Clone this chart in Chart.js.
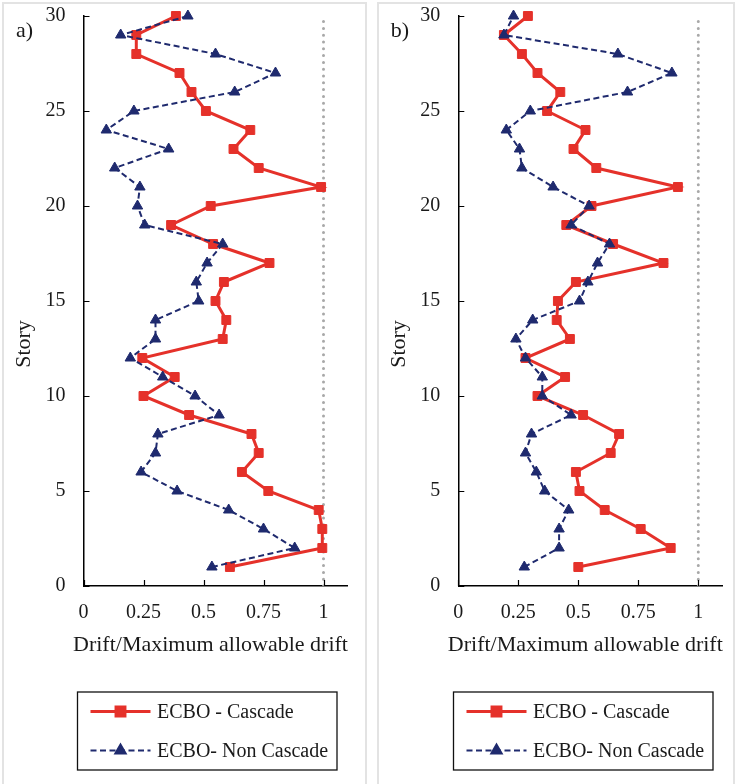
<!DOCTYPE html>
<html>
<head>
<meta charset="utf-8">
<script src="https://cdn.jsdelivr.net/npm/chart.js@4.4.0/dist/chart.umd.min.js"></script>
<style>
  body { margin: 0; background: #fff; width: 736px; height: 784px; overflow: hidden; position: relative; }
  .frame { position: absolute; top: 2px; height: 800px; border: 2px solid #e3e3e3; box-sizing: border-box; }
  canvas { position: absolute; top: 0; }
</style>
</head>
<body>
<div class="frame" style="left:2px;width:365px"></div>
<div class="frame" style="left:377px;width:358px"></div>
<canvas id="chartA" width="368" height="784" style="left:0"></canvas>
<canvas id="chartB" width="368" height="784" style="left:368px"></canvas>
<script>
// story numbers, bottom to top
const stories = [1, 2, 3, 4, 5, 6, 7, 8, 9, 10, 11, 12, 13, 14, 15, 16, 17, 18, 19, 20, 21, 22, 23, 24, 25, 26, 27, 28, 29, 30];

// panel a)
const cascadeA = [0.61, 0.995, 0.995, 0.98, 0.77, 0.66, 0.73, 0.70, 0.44, 0.25, 0.38, 0.245, 0.58, 0.595, 0.55,
  0.585, 0.775, 0.54, 0.365, 0.53, 0.99, 0.73, 0.625, 0.695, 0.51, 0.45, 0.40, 0.22, 0.22, 0.385];
const nonCascadeA = [0.535, 0.88, 0.75, 0.605, 0.39, 0.24, 0.30, 0.31, 0.565, 0.465, 0.33, 0.195, 0.30, 0.30, 0.48,
  0.47, 0.515, 0.58, 0.255, 0.225, 0.235, 0.13, 0.355, 0.095, 0.21, 0.63, 0.80, 0.55, 0.155, 0.435];

// panel b)
const cascadeB = [0.50, 0.885, 0.76, 0.61, 0.505, 0.49, 0.635, 0.67, 0.52, 0.33, 0.445, 0.28, 0.465, 0.41, 0.415,
  0.49, 0.855, 0.645, 0.45, 0.555, 0.915, 0.575, 0.48, 0.53, 0.37, 0.425, 0.33, 0.265, 0.19, 0.29];
const nonCascadeB = [0.275, 0.42, 0.42, 0.46, 0.36, 0.325, 0.28, 0.305, 0.47, 0.35, 0.35, 0.28, 0.24, 0.31, 0.505,
  0.54, 0.58, 0.63, 0.47, 0.545, 0.395, 0.265, 0.255, 0.20, 0.30, 0.705, 0.89, 0.665, 0.19, 0.23];

const allowableLimit = 1;
const xTicks = [0, 0.25, 0.5, 0.75, 1];
const yTicks = [0, 5, 10, 15, 20, 25, 30];
const seriesNames = ['ECBO - Cascade', 'ECBO- Non Cascade'];

const red = '#e5312a';
const navy = '#1f2a6e';
const serif = '"Liberation Serif", "Times New Roman", serif';
const plotTop = 16, plotBottom = 586;

const panelDecor = {
  id: 'panelDecor',
  afterDraw(chart, args, opts) {
    const ctx = chart.ctx;
    const xs = chart.scales.x, ys = chart.scales.y;
    ctx.save();
    // inner tick marks
    ctx.strokeStyle = '#000';
    ctx.lineWidth = 1.2;
    ctx.beginPath();
    xTicks.forEach(v => {
      const px = Math.round(xs.getPixelForValue(v)) + 0.5;
      ctx.moveTo(px, ys.bottom);
      ctx.lineTo(px, ys.bottom - 6);
    });
    yTicks.forEach(v => {
      const py = Math.round(ys.getPixelForValue(v)) + 0.5;
      ctx.moveTo(xs.left, py);
      ctx.lineTo(xs.left + 6, py);
    });
    ctx.stroke();

    ctx.fillStyle = '#1a1a1a';
    ctx.textBaseline = 'middle';
    ctx.font = '22px ' + serif;
    ctx.textAlign = 'left';
    ctx.fillText(opts.tag, xs.left - 67.5, 31);
    ctx.textAlign = 'center';
    ctx.fillText('Drift/Maximum allowable drift', xs.left + 127, 645);
    ctx.save();
    ctx.translate(xs.left - 59.5, 344);
    ctx.rotate(-Math.PI / 2);
    ctx.fillText('Story', 0, 0);
    ctx.restore();

    // legend box
    const bx = opts.legendX, by = 692;
    ctx.strokeStyle = '#111';
    ctx.lineWidth = 1.3;
    ctx.strokeRect(bx, by, 259.5, 78);
    const rows = [711.5, 750.5];
    chart.data.datasets.slice(0, 2).forEach((ds, i) => {
      const y = rows[i];
      ctx.save();
      ctx.strokeStyle = ds.borderColor;
      ctx.lineWidth = ds.borderWidth;
      ctx.setLineDash(ds.borderDash || []);
      ctx.beginPath();
      ctx.moveTo(bx + 13, y);
      ctx.lineTo(bx + 73, y);
      ctx.stroke();
      ctx.setLineDash([]);
      ctx.fillStyle = ds.backgroundColor;
      Chart.helpers.drawPoint(ctx, {pointStyle: ds.pointStyle, radius: ds.pointRadius, rotation: 0, borderWidth: 1}, bx + 43, y);
      ctx.restore();
      ctx.fillStyle = '#1a1a1a';
      ctx.font = '20px ' + serif;
      ctx.textAlign = 'left';
      ctx.fillText(ds.label, bx + 79.5, y + 1);
    });
    ctx.restore();
  }
};

function makePanel(id, tag, cascade, nonCascade, axisLeft, legendX) {
  const plotRight = axisLeft + 264;
  const toPoints = vals => vals.map((v, i) => ({x: v, y: stories[i]}));
  return new Chart(document.getElementById(id), {
    type: 'scatter',
    data: {
      datasets: [
        {
          label: seriesNames[0], data: toPoints(cascade), showLine: true,
          borderColor: red, backgroundColor: red, borderWidth: 3,
          pointStyle: 'rect', pointRadius: 6.3, pointBorderWidth: 1, pointBorderColor: red,
          clip: false, order: 2
        },
        {
          label: seriesNames[1], data: toPoints(nonCascade), showLine: true,
          borderColor: navy, backgroundColor: navy, borderWidth: 2, borderDash: [6, 3.5],
          pointStyle: 'triangle', pointRadius: 6, pointBorderWidth: 1, pointBorderColor: navy,
          clip: false, order: 1
        },
        {
          label: 'limit',
          data: [{x: allowableLimit, y: yTicks[0]}, {x: allowableLimit, y: yTicks[yTicks.length - 1]}],
          showLine: true, borderColor: '#a8a8a8', borderWidth: 3, borderDash: [0, 6.8],
          borderCapStyle: 'round', pointRadius: 0, order: 3
        }
      ]
    },
    options: {
      responsive: false,
      devicePixelRatio: 1,
      animation: false,
      events: [],
      layout: { padding: { left: 0, top: plotTop, right: 368 - plotRight, bottom: 0 } },
      plugins: {
        legend: { display: false },
        tooltip: { enabled: false },
        panelDecor: { tag: tag, legendX: legendX }
      },
      scales: {
        x: {
          type: 'linear', min: 0, max: 1.1,
          grid: { display: false, drawTicks: false },
          border: { display: true, color: '#000', width: 1.5 },
          afterBuildTicks: s => { s.ticks = xTicks.map(v => ({value: v})); },
          afterFit: s => { s.height = 784 - plotBottom; s.paddingLeft = 0; s.paddingRight = 0; },
          ticks: { padding: 15, color: '#1a1a1a', font: { family: serif, size: 20 }, callback: v => String(v) }
        },
        y: {
          type: 'linear', min: 0, max: 30,
          grid: { display: false, drawTicks: false },
          border: { display: true, color: '#000', width: 1.5 },
          afterBuildTicks: s => { s.ticks = yTicks.map(v => ({value: v})); },
          afterFit: s => { s.width = axisLeft; s.paddingTop = 0; s.paddingBottom = 0; },
          ticks: { padding: 18, color: '#1a1a1a', font: { family: serif, size: 20 }, callback: v => String(v) }
        }
      }
    },
    plugins: [panelDecor]
  });
}

makePanel('chartA', 'a)', cascadeA, nonCascadeA, 83.5, 77.5);
makePanel('chartB', 'b)', cascadeB, nonCascadeB, 90.3, 85.5);
</script>
</body>
</html>
